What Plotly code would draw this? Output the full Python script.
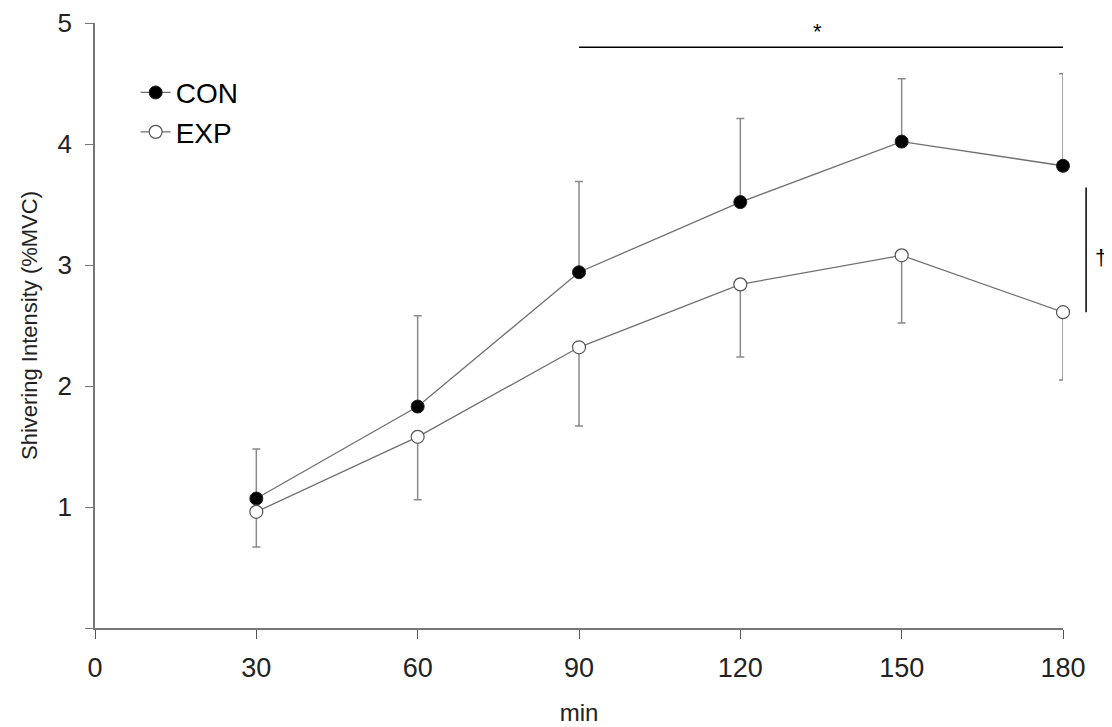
import plotly.graph_objects as go

minutes = [30, 60, 90, 120, 150, 180]
con_mean = [1.07, 1.83, 2.94, 3.52, 4.02, 3.82]
con_sd = [0.41, 0.75, 0.75, 0.69, 0.52, 0.76]
exp_mean = [0.96, 1.58, 2.32, 2.84, 3.08, 2.61]
exp_sd = [0.29, 0.52, 0.65, 0.60, 0.56, 0.56]
x_ticks = [0, 30, 60, 90, 120, 150, 180]
y_ticks = [0, 1, 2, 3, 4, 5]
y_ticklabels = ["", "1", "2", "3", "4", "5"]

FONT = "Liberation Sans, Arial, sans-serif"
LINE = "#707070"
ERR = "#8a8a8a"

fig = go.Figure()
fig.add_trace(go.Scatter(
    x=minutes, y=con_mean, name="CON", mode="lines+markers",
    line=dict(color=LINE, width=1.3),
    marker=dict(symbol="circle", size=13, color="black", line=dict(color="#222", width=1)),
    error_y=dict(type="data", array=con_sd, arrayminus=[0]*len(con_sd), symmetric=False,
                 color=ERR, thickness=1.5, width=4),
    cliponaxis=False,
))
fig.add_trace(go.Scatter(
    x=minutes, y=exp_mean, name="EXP", mode="lines+markers",
    line=dict(color=LINE, width=1.3),
    marker=dict(symbol="circle", size=13, color="white", line=dict(color="#555", width=1.2)),
    error_y=dict(type="data", array=[0]*len(exp_sd), arrayminus=exp_sd, symmetric=False,
                 color=ERR, thickness=1.5, width=4),
    cliponaxis=False,
))

# significance bar (*)
fig.add_shape(type="line", xref="x", yref="y", x0=90, x1=180, y0=4.80, y1=4.80,
              line=dict(color="black", width=1.5))
fig.add_annotation(x=134.3, y=4.93, xref="x", yref="y", text="*", showarrow=False,
                   font=dict(family=FONT, size=22, color="black"))
# dagger bar
x_dag = 184.3 / 180
fig.add_shape(type="line", xref="paper", yref="y", x0=x_dag, x1=x_dag, y0=2.61, y1=3.64,
              line=dict(color="black", width=1.5))
fig.add_annotation(x=188.6 / 180, y=3.06, xref="paper", yref="y", text="†", showarrow=False,
                   font=dict(family=FONT, size=22, color="black"))

fig.update_layout(
    width=1104, height=719,
    margin=dict(l=87, r=49, t=15, b=99, autoexpand=False),
    plot_bgcolor="white", paper_bgcolor="white",
    font=dict(family=FONT, size=22, color="#222"),
    showlegend=True,
    legend=dict(x=0.042, y=0.926, xanchor="left", yanchor="top",
                bgcolor="rgba(0,0,0,0)", font=dict(size=28, color="black"),
                tracegroupgap=0, itemwidth=30),
    xaxis=dict(range=[0, 180], tickvals=x_ticks, ticks="outside", ticklen=9,
               tickcolor="#555", showline=True, linecolor="#777", linewidth=1.5,
               showgrid=False, zeroline=False, automargin=False, ticklabelstandoff=6,
               ticklabeloverflow="allow",
               tickfont=dict(size=27, color="#222"),
               title=dict(text="min", font=dict(size=24, color="#222"), standoff=22)),
    yaxis=dict(range=[0, 5], tickvals=y_ticks, ticktext=y_ticklabels, ticks="outside",
               ticklen=8, tickcolor="#777", showline=True, linecolor="#777", linewidth=1.5,
               showgrid=False, zeroline=False, automargin=False, ticklabelstandoff=8,
               ticklabeloverflow="allow",
               tickfont=dict(size=26, color="#222"),
               title=dict(text="Shivering Intensity (%MVC)", font=dict(size=22, color="#222"),
                          standoff=14)),
)

fig.write_html("out.html")
